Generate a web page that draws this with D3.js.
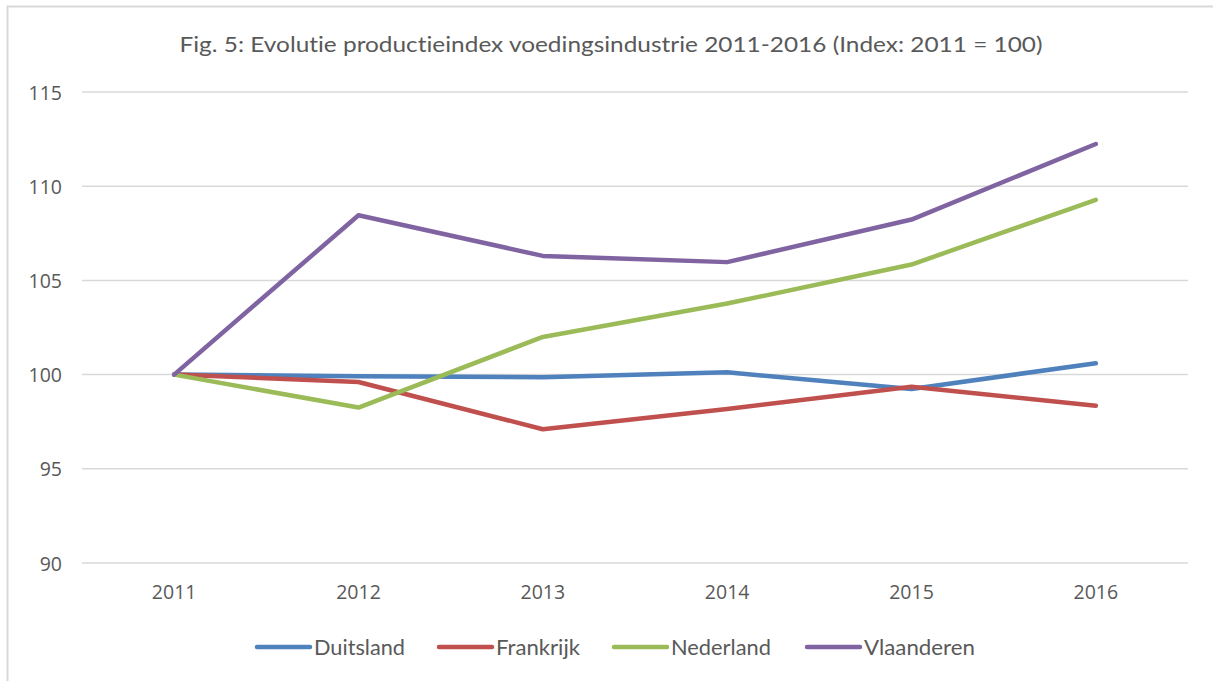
<!DOCTYPE html>
<html><head><meta charset="utf-8">
<script src="https://cdn.jsdelivr.net/npm/d3@7"></script>
<style>html,body{margin:0;padding:0;background:#fff;}svg{display:block;} text{font-variant-ligatures:none;font-feature-settings:"liga" 0,"clig" 0;}</style>
</head><body>
<svg id="chart" width="1213" height="681"></svg>
<script>
const title = "Fig. 5: Evolutie productieindex voedingsindustrie 2011-2016 (Index: 2011 = 100)";
const years = ["2011","2012","2013","2014","2015","2016"];
const yTicks = [90,95,100,105,110,115];
const seriesNames = ["Duitsland","Frankrijk","Nederland","Vlaanderen"];
const duitsland  = [100, 99.91, 99.86, 100.12, 99.24, 100.6];
const frankrijk  = [100, 99.61, 97.1, 98.18, 99.36, 98.35];
const nederland  = [100, 98.25, 102.0, 103.77, 105.84, 109.28];
const vlaanderen = [100, 108.46, 106.3, 105.97, 108.23, 112.24];
const colors = ["#4F81BD","#C0504D","#9BBB59","#8064A2"];

const series = [duitsland, frankrijk, nederland, vlaanderen].map((v,i)=>({name:seriesNames[i], values:v, color:colors[i]}));

const svg = d3.select("#chart");

// chart border
svg.append("path").attr("d","M7.5,681 V6.5 H1213").attr("fill","none").attr("stroke","#D9D9D9").attr("stroke-width",2);

const x = d3.scaleBand().domain(years).range([82,1188]).padding(0);
const y = d3.scaleLinear().domain([90,115]).range([563,92]);

const grid = svg.append("g");
grid.selectAll("line").data(yTicks).join("line")
  .attr("x1",82).attr("x2",1188)
  .attr("y1",d=>y(d)).attr("y2",d=>y(d))
  .attr("stroke","#D9D9D9").attr("stroke-width",1.5);

const yAxis = d3.axisLeft(y).tickValues(yTicks).tickSize(0).tickPadding(0);
const gy = svg.append("g").attr("transform","translate(62,0)").call(yAxis);
gy.select(".domain").remove();
gy.selectAll("text").attr("font-family","'Open Sans', sans-serif").attr("font-size",19.5).attr("fill","#595959").attr("dy","0.36em");

const xAxis = d3.axisBottom(x).tickSize(0).tickPadding(0);
const gx = svg.append("g").attr("transform","translate(0,585)").call(xAxis);
gx.select(".domain").remove();
gx.selectAll("text").attr("font-family","'Open Sans', sans-serif").attr("font-size",19.5).attr("fill","#595959").attr("dy","0.72em");

const line = d3.line().x((d,i)=>x(years[i])+x.bandwidth()/2).y(d=>y(d));
svg.append("g").selectAll("path").data(series).join("path")
  .attr("d",d=>line(d.values))
  .attr("fill","none").attr("stroke",d=>d.color).attr("stroke-width",4.5)
  .attr("stroke-linejoin","round").attr("stroke-linecap","round");

// title
svg.append("text").attr("x",611).attr("y",52).attr("text-anchor","middle")
  .attr("font-family","Lato, sans-serif").attr("font-size",22).attr("font-weight",400).attr("fill","#595959")
  .attr("textLength",863).attr("lengthAdjust","spacingAndGlyphs")
  .text(title);

// legend
const legX = [257, 439, 614, 807];
const legTextLen = [91, 84, 100, 111];
const leg = svg.append("g").selectAll("g").data(series).join("g")
  .attr("transform",(d,i)=>`translate(${legX[i]},647)`);
leg.append("line").attr("x1",0).attr("x2",53).attr("y1",0).attr("y2",0)
  .attr("stroke",d=>d.color).attr("stroke-width",4.5).attr("stroke-linecap","round");
leg.append("text").attr("x",57).attr("y",0).attr("dy","0.35em")
  .attr("font-family","Lato, sans-serif").attr("font-size",22).attr("fill","#595959")
  .attr("textLength",(d,i)=>legTextLen[i]).attr("lengthAdjust","spacingAndGlyphs")
  .text(d=>d.name);
</script>
</body></html>
